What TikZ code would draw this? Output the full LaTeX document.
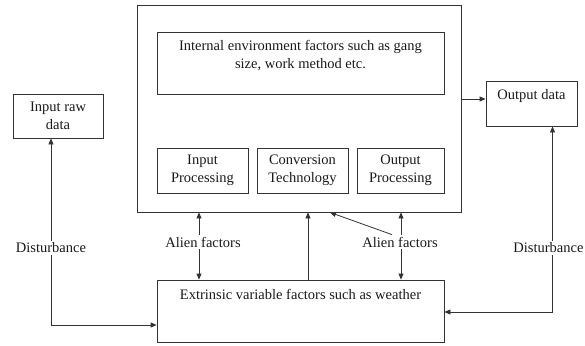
\documentclass[tikz,border=0pt]{standalone}
\usepackage{fontspec}
\setmainfont{Liberation Serif}
\usetikzlibrary{arrows.meta,calc}
\begin{document}
\begin{tikzpicture}[x=1pt,y=-1pt,
  every node/.style={font=\fontsize{14.5}{18}\selectfont, text=black!90},
  box/.style={draw=black!80, line width=0.8pt, inner sep=0pt, align=center},
  lbl/.style={inner sep=2pt, align=center},
  arr/.style={draw=black!80, line width=0.8pt, -{Triangle[length=6pt,width=5pt]}},
  ln/.style={draw=black!80, line width=0.8pt}]
\useasboundingbox (0,0) rectangle (585,345);
% boxes
\node[box, minimum width=324pt, minimum height=207pt] (main) at (299,108.5) {};
\node[box, minimum width=287pt, minimum height=62pt] (internal) at (300.5,63) {};
\node[lbl] (internaltext) at (300.5,56) {Internal environment factors such as gang\\size, work method etc.};
\node[box, minimum width=91pt, minimum height=45pt] (inproc) at (202.5,170.5) {Input\\Processing};
\node[box, minimum width=91pt, minimum height=45pt] (conv) at (302.5,170.5) {Conversion\\Technology};
\node[box, minimum width=87pt, minimum height=45pt] (outproc) at (400.5,170.5) {Output\\Processing};
\node[box, minimum width=287pt, minimum height=62pt] (extr) at (300.5,311) {};
\node[lbl] (extrtext) at (300.5,294) {Extrinsic variable factors such as weather};
\node[box, minimum width=90pt, minimum height=44pt] (inraw) at (58,116) {Input raw\\data};
\node[box, minimum width=91pt, minimum height=45pt] (outd) at (531.5,103.5) {};
\node[lbl] (outdtext) at (531.5,96) {Output data};
% labels
\node[lbl] (dl) at (51,248) {Disturbance};
\node[lbl, inner xsep=0pt] (dr) at (548.5,248) {Disturbance};
\node[lbl] (al) at (203,242) {Alien factors};
\node[lbl] (ar) at (400,242) {Alien factors};
% connectors
\coordinate (mainout) at ([yshift=9.5pt]main.east);
\coordinate (drn) at ([xshift=4pt]dr.north);
\coordinate (drs) at ([xshift=4pt]dr.south);
\draw[arr] (mainout) -- (outd.west |- mainout);
\draw[arr] (dl.north) -- (dl.north |- inraw.south);
\draw[arr] (drn) -- (drn |- outd.south);
\draw[arr] (dl.south) |- ([yshift=-14pt]extr.west);
\draw[arr] (drs) |- ([yshift=-1pt]extr.east);
\draw[arr] ([xshift=-4pt]al.north) -- ([xshift=-100pt]main.south);
\draw[arr] ([xshift=-4pt]al.south) -- ([xshift=-101.5pt]extr.north);
\draw[arr] ([xshift=7.5pt]extr.north) -- ([xshift=9pt]main.south);
\draw[arr] ([xshift=1pt]ar.north) -- ([xshift=102pt]main.south);
\draw[arr] ([xshift=1pt]ar.south) -- ([xshift=100.5pt]extr.north);
\draw[arr] ([xshift=-8pt]ar.north) -- ([xshift=31pt]main.south);
\end{tikzpicture}
\end{document}
